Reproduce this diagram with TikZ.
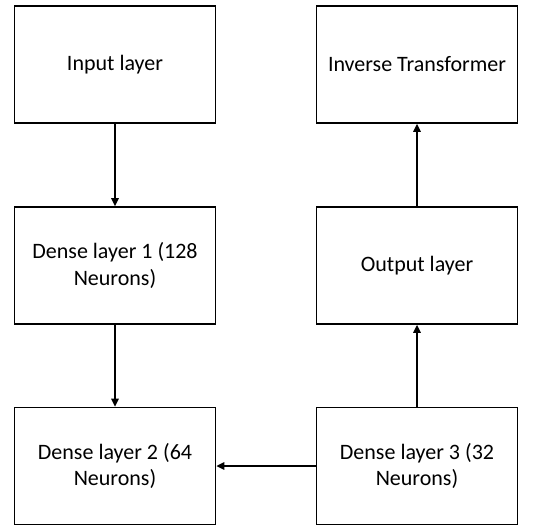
\documentclass[tikz,border=0pt]{standalone}
\usepackage{fontspec}
\setmainfont{Carlito}
\usetikzlibrary{arrows.meta}

\begin{document}
\begin{tikzpicture}[x=0.75pt,y=0.75pt,yscale=-1,xscale=1,
	layerbox/.style={draw, line width=1.2pt, minimum width=150.75pt, minimum height=87.75pt, align=center, inner sep=0.75pt, font=\fontsize{16.5}{20}\selectfont},
	flow/.style={line width=1.5pt, -{Triangle[length=6pt,width=5.5pt]}}]
	\path[use as bounding box] (0,0) rectangle (538,528);
	
	%Shape: Rectangle [id:input]
	\node[layerbox] (input) at (115,64.5) {Input layer};
	%Shape: Rectangle [id:dense1]
	\node[layerbox] (dense1) at (115,265.5) {Dense layer 1 (128\\Neurons)};
	%Shape: Rectangle [id:dense2]
	\node[layerbox] (dense2) at (115,466) {Dense layer 2 (64\\Neurons)};
	%Shape: Rectangle [id:dense3]
	\node[layerbox] (dense3) at (417,466) {Dense layer 3 (32\\Neurons)};
	%Shape: Rectangle [id:output]
	\node[layerbox] (output) at (417,265.5) {Output layer};
	%Shape: Rectangle [id:inverse]
	\node[layerbox] (inverse) at (417,64.5) {Inverse Transformer};
	
	%Straight Lines
	\draw[flow] (input) -- (dense1);
	\draw[flow] (dense1) -- (dense2);
	\draw[flow] (dense3) -- (dense2);
	\draw[flow] (dense3) -- (output);
	\draw[flow] (output) -- (inverse);
	
\end{tikzpicture}
\end{document}
